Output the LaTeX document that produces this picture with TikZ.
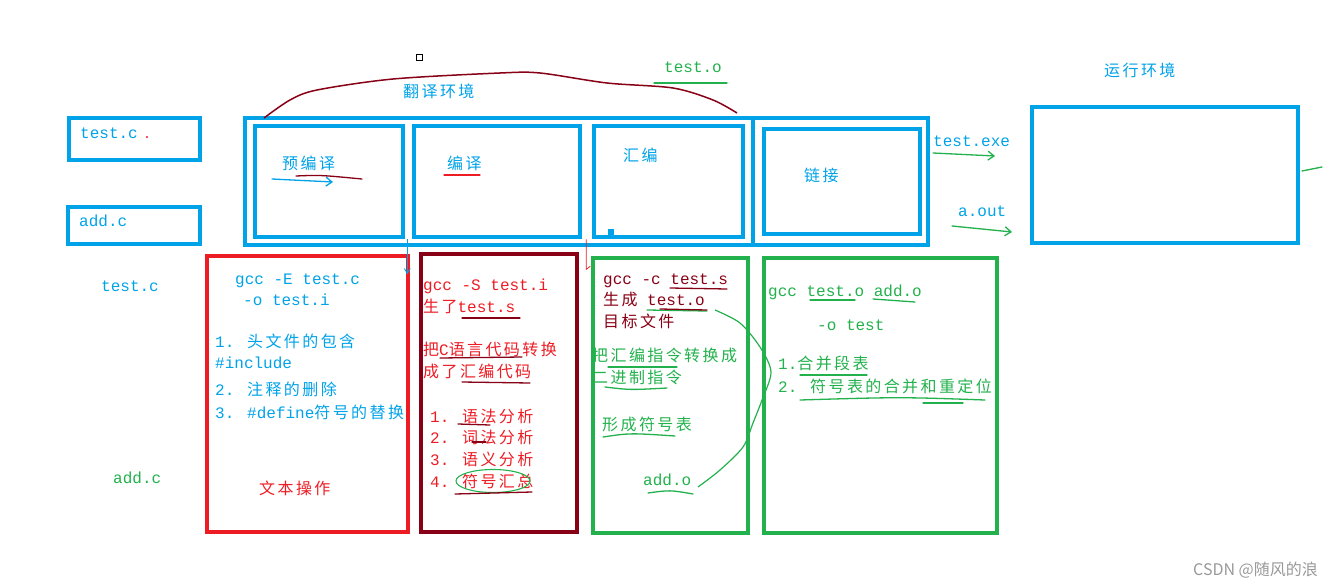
\documentclass[tikz,border=0pt]{standalone}
\usepackage{fontspec}
\setmainfont{Liberation Mono}
\newfontfamily\cjk[LetterSpace=15]{Noto Sans CJK SC}
\newfontfamily\wmfont{Noto Sans CJK SC}
\usetikzlibrary{arrows.meta}
\definecolor{pblue}{RGB}{0,162,232}
\definecolor{pred}{RGB}{237,28,36}
\definecolor{pdred}{RGB}{136,0,21}
\definecolor{pgreen}{RGB}{34,177,76}
\newcommand\zh[1]{{\cjk #1}}
\tikzset{
  box/.style={draw, inner sep=0pt, anchor=north west},
  bbox/.style={box, draw=pblue, line width=4.3pt},
  rbox/.style={box, line width=4pt},
  txt/.style={inner sep=0pt, anchor=base west, font=\fontsize{16}{19}\selectfont},
  ul/.style={line width=1.3pt, line cap=round},
  barb/.style={-{Straight Barb[length=6pt,width=9pt]}},
}
\begin{document}
\begin{tikzpicture}[x=1pt,y=-1pt]
\useasboundingbox (0,0) rectangle (1343,586);
% ---------- top row boxes
\node[bbox, minimum width=131pt, minimum height=42pt] (tc) at (67,116) {};
\node[bbox, minimum width=132pt, minimum height=37pt] (ac) at (66,205) {};
\node[bbox, minimum width=683pt, minimum height=127pt] (outer) at (243,116) {};
\draw[draw=pblue, line width=4.3pt] (753,116) -- (753,243);
\node[bbox, minimum width=148pt, minimum height=111pt] (b1) at (253,124) {};
\node[bbox, minimum width=166pt, minimum height=111pt] (b2) at (412,124) {};
\node[bbox, minimum width=149pt, minimum height=111pt] (b3) at (592,124) {};
\node[bbox, minimum width=156pt, minimum height=105pt] (b4) at (762,127) {};
\node[bbox, minimum width=266pt, minimum height=136pt] (run) at (1030,105) {};
\fill[pblue] (608,229) rectangle (614,237);
\draw[black, line width=0.8pt] (416,54) rectangle (422,60);
% ---------- lower boxes
\node[rbox, draw=pred, minimum width=201pt, minimum height=276pt] (rb) at (205,254) {};
\node[rbox, draw=pdred, minimum width=156pt, minimum height=278pt] (drb) at (419,252) {};
\node[rbox, draw=pgreen, minimum width=155pt, minimum height=275pt] (g1) at (591,256) {};
\node[rbox, draw=pgreen, minimum width=233pt, minimum height=275pt] (g2) at (762,256) {};
% ---------- translation environment curve
\draw[pdred, line width=1.5pt] plot[smooth] coordinates {(264,118) (290,100) (317,90) (393,79) (500,73) (540,73) (607,83) (673,88) (713,100) (737,113)};
% ---------- labels top
\node[txt, text=pblue] (tcl) at (80,138) {test.c};
\fill[pred] (147,137) circle (1.2pt);
\node[txt, text=pblue] (acl) at (79,226) {add.c};
\node[txt, text=pblue] (trans) at (403,97) {\zh{翻译环境}};
\node[txt, text=pblue] (pre) at (282,169) {\zh{预编译}};
\node[txt, text=pblue] (cmp) at (447,169) {\zh{编译}};
\node[txt, text=pblue] (asm) at (623,161) {\zh{汇编}};
\node[txt, text=pblue] (lnk) at (804,181) {\zh{链接}};
\node[txt, text=pgreen] (tot) at (664,73) {test.o};
\node[txt, text=pblue] (exe) at (933,146) {test.exe};
\node[txt, text=pblue] (aout) at (958,216) {a.out};
\node[txt, text=pblue] (envrun) at (1104,77) {\zh{运行环境}};
\node[txt, text=pblue] (ltc) at (101,291) {test.c};
\node[txt, text=pgreen] (lac) at (113,483) {add.c};
% top strokes
\draw[ul, pgreen] (654,83) -- (727,83);
\draw[ul, pblue, barb] (272,179) -- (333,182);
\draw[ul, pdred] (296,176) .. controls (320,175) .. (362,179);
\draw[ul, pred] (444,175) -- (480,175);
\draw[ul, pgreen, barb] (933,153) -- (995,156);
\draw[ul, pgreen, barb] (952,226) -- (1012,232);
\draw[ul, pgreen] (1302,171) -- (1322,167);
% connectors down
\draw[pblue, line width=0.8pt, -{Straight Barb[length=5pt,width=6pt]}] ([xshift=2pt]b1.south east) -- ++(0,35);
\draw[pred, line width=0.8pt] ([xshift=4pt]b2.south east) -- ++(0,30) -- ++(4,-3);
% ---------- red box text
\node[txt, text=pblue] (e1) at (235,284) {gcc -E test.c};
\node[txt, text=pblue] (e2) at (243,305) {-o test.i};
\node[txt, text=pblue] (e3) at (215,347) {1. \zh{头文件的包含}};
\node[txt, text=pblue] (e4) at (215,368) {\#include};
\node[txt, text=pblue] (e5) at (215,395) {2. \zh{注释的删除}};
\node[txt, text=pblue] (e6) at (215,418) {3. \#define\zh{符号的替换}};
\node[txt, text=pred] (e7) at (259,494) {\zh{文本操作}};
% ---------- dark red box text
\node[txt, text=pred] (s1) at (423,290) {gcc -S test.i};
\node[txt, text=pred] (s2) at (423,312) {\zh{生了}test.s};
\node[txt, text=pred] (s3) at (423,355) {\zh{把}C\zh{语言代码转换}};
\node[txt, text=pred] (s4) at (423,377) {\zh{成了汇编代码}};
\node[txt, text=pred] (s5) at (430,422) {1. \zh{语法分析}};
\node[txt, text=pred] (s6) at (430,443) {2. \zh{词法分析}};
\node[txt, text=pred] (s7) at (430,465) {3. \zh{语义分析}};
\node[txt, text=pred] (s8) at (430,487) {4. \zh{符号汇总}};
\draw[ul, pdred] (462,318) -- (520,318);
\draw[ul, pdred] (440,358) -- (522,357);
\draw[ul, pdred] (462,382) -- (530,383);
\draw[ul, pdred] (458,424) -- (490,425);
\draw[ul, pdred] (472,442) -- (486,442);
\draw[pgreen, line width=1.1pt] (493,481) ellipse [x radius=37pt, y radius=11.5pt];
\draw[ul, pdred] (455,494) -- (532,492);
% ---------- green box 1 text
\node[txt, text=pdred] (c1) at (603,284) {gcc -c test.s};
\node[txt, text=pdred] (c2) at (603,305) {\zh{生成} test.o};
\node[txt, text=pdred] (c3) at (603,327) {\zh{目标文件}};
\node[txt, text=pgreen] (c4) at (592,361) {\zh{把汇编指令转换成}};
\node[txt, text=pgreen] (c5) at (592,383) {\zh{二进制指令}};
\node[txt, text=pgreen] (c6) at (602,430) {\zh{形成符号表}};
\node[txt, text=pgreen] (c7) at (643,485) {add.o};
\draw[ul, pdred] (670,288) -- (727,289);
\draw[ul, pgreen] (647,310) -- (707,311);
\draw[ul, pdred] (660,309) -- (707,310);
\draw[ul, pgreen] (608,367) -- (677,367);
\draw[ul, pgreen] (605,387) .. controls (630,390) .. (667,388);
\draw[ul, pgreen] (603,437) .. controls (630,433) .. (675,436);
\draw[ul, pgreen] (648,493) .. controls (670,490) .. (693,494);
\draw[pgreen, line width=1.2pt] plot[smooth] coordinates {(715,310) (740,323) (760,347) (771,372) (762,400) (753,423) (743,447) (720,470) (698,487)};
% ---------- green box 2 text
\node[txt, text=pgreen] (l1) at (768,296) {gcc test.o add.o};
\node[txt, text=pgreen] (l2) at (817,330) {-o test};
\node[txt, text=pgreen] (l3) at (778,369) {1.\zh{合并段表}};
\node[txt, text=pgreen] (l4) at (778,392) {2. \zh{符号表的合并和重定位}};
\draw[ul, pgreen] (810,300) -- (855,300);
\draw[ul, pgreen] (873,299) -- (915,302);
\draw[ul, pgreen] (800,375) -- (867,375);
\draw[ul, pgreen] (800,400) .. controls (900,397) .. (985,400);
\draw[ul, pgreen] (923,403) -- (963,403);
% ---------- watermark
\node[anchor=base west, inner sep=0pt, text=black!40, font=\wmfont\fontsize{16}{18}\selectfont] (wm) at (1193,575) {CSDN @随风的浪};
\end{tikzpicture}
\end{document}
